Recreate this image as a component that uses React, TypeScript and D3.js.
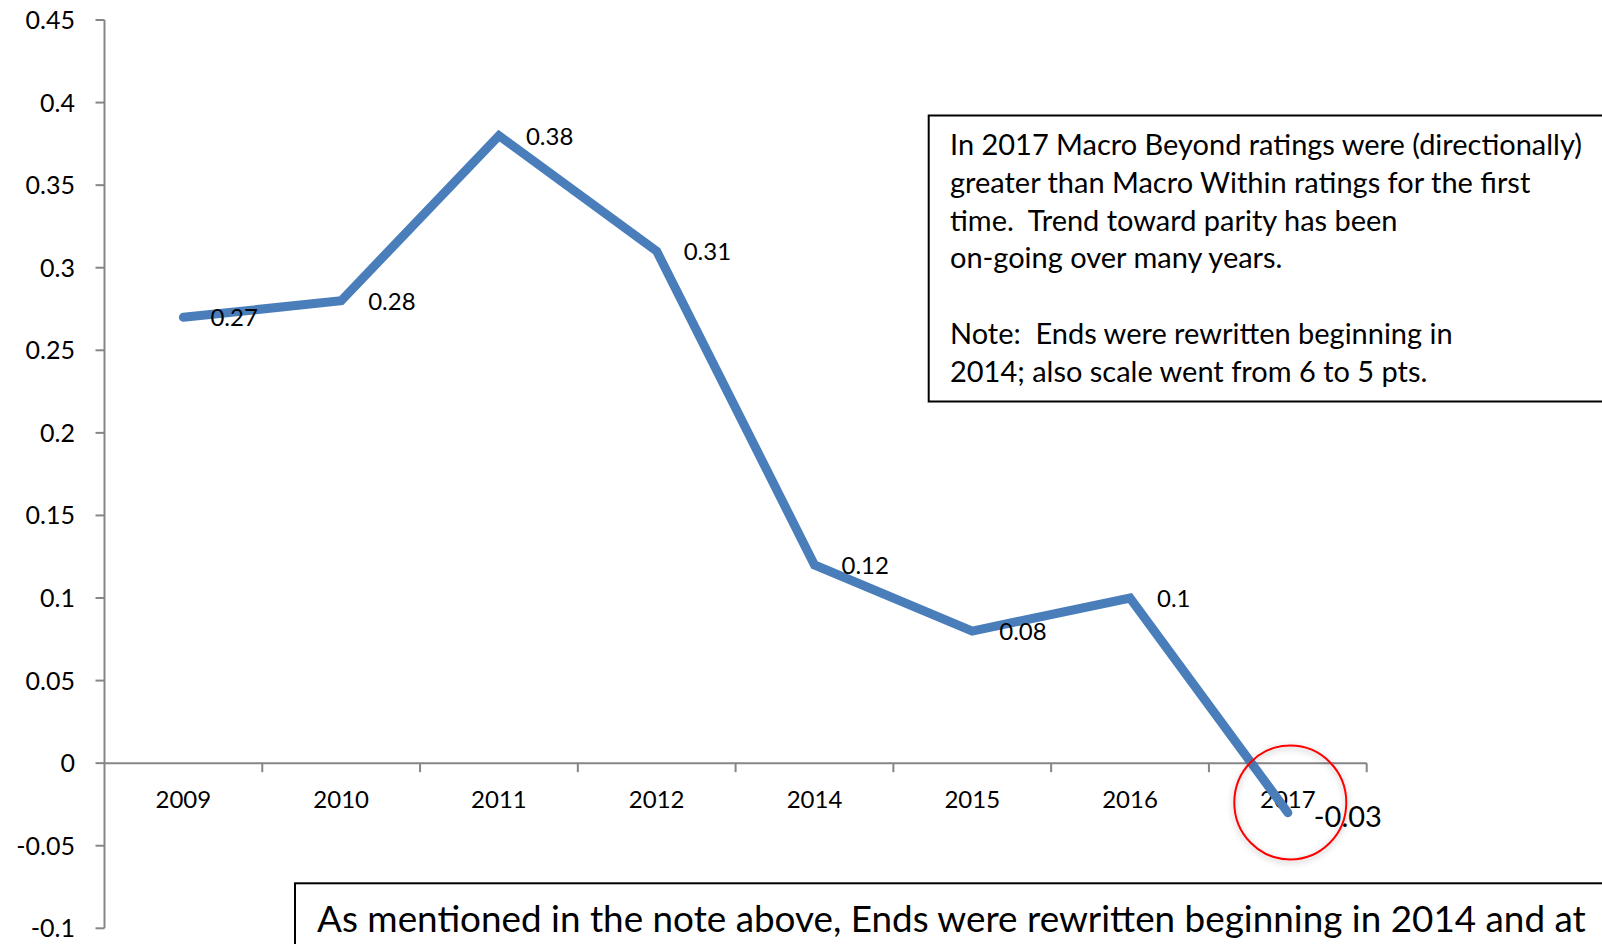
import React from 'react';
import * as d3 from 'd3';

const categories = ['2009', '2010', '2011', '2012', '2014', '2015', '2016', '2017'];
const values = [0.27, 0.28, 0.38, 0.31, 0.12, 0.08, 0.1, -0.03];
const valueLabels = ['0.27', '0.28', '0.38', '0.31', '0.12', '0.08', '0.1', '-0.03'];
const yTicks = [-0.1, -0.05, 0, 0.05, 0.1, 0.15, 0.2, 0.25, 0.3, 0.35, 0.4, 0.45];
const yTickLabels = ['-0.1', '-0.05', '0', '0.05', '0.1', '0.15', '0.2', '0.25', '0.3', '0.35', '0.4', '0.45'];
const noteLines = [
  'In 2017 Macro Beyond ratings were (directionally)',
  'greater than Macro Within ratings for the first',
  'time.  Trend toward parity has been',
  'on-going over many years.',
  '',
  'Note:  Ends were rewritten beginning in',
  '2014; also scale went from 6 to 5 pts.',
];
const bottomNote = 'As mentioned in the note above, Ends were rewritten beginning in 2014 and at';

const FONT = 'Lato, "Open Sans", sans-serif';

function fitSize(text: string, target: number): number {
  try {
    const c = document.createElement('canvas');
    const ctx = c.getContext('2d');
    if (!ctx) return 28;
    ctx.font = `100px Lato`;
    const w = ctx.measureText(text).width;
    return (100 * target) / w;
  } catch (e) {
    return 28;
  }
}

export default function App() {
  const W = 1602;
  const H = 944;
  const x = d3.scaleBand<string>().domain(categories).range([104.5, 1366.7]).padding(0);
  const y = d3.scaleLinear().domain([-0.1, 0.45]).range([928.3, 20]);
  const cx = (c: string) => (x(c) as number) + x.bandwidth() / 2;
  const line = d3
    .line<number>()
    .x((_, i) => cx(categories[i]))
    .y((d) => y(d));
  const axisColor = '#868686';
  const noteSize = fitSize(noteLines[0], 633);
  const bottomSize = fitSize(bottomNote, 1270);
  const y0 = y(0);
  const noteBase0 = 155;
  const noteStep = 37.8;

  return (
    <svg
      width={W}
      height={H}
      style={{ position: 'absolute', left: 0, top: 0, background: '#fff' }}
      fontFamily={FONT}
    >
      <defs>
        <filter id="shadow" x="-30%" y="-30%" width="160%" height="160%">
          <feDropShadow dx="0" dy="2" stdDeviation="3" floodColor="#000" floodOpacity="0.3" />
        </filter>
      </defs>
      <rect x={0} y={0} width={W} height={H} fill="#fff" />
      {/* Y axis */}
      <line x1={104.5} x2={104.5} y1={y(0.45)} y2={y(-0.1)} stroke={axisColor} strokeWidth={2} />
      {yTicks.map((t, i) => (
        <g key={t}>
          <line x1={95.5} x2={104.5} y1={y(t)} y2={y(t)} stroke={axisColor} strokeWidth={2} />
          <text x={75} y={y(t) + 9} textAnchor="end" fontSize={25} fill="#000">
            {yTickLabels[i]}
          </text>
        </g>
      ))}
      {/* X axis */}
      <line x1={104.5} x2={1366.7} y1={y0} y2={y0} stroke={axisColor} strokeWidth={2} />
      {categories.map((c) => (
        <line
          key={'t' + c}
          x1={(x(c) as number) + x.bandwidth()}
          x2={(x(c) as number) + x.bandwidth()}
          y1={y0}
          y2={y0 + 9}
          stroke={axisColor}
          strokeWidth={2}
        />
      ))}
      {categories.map((c) => (
        <text key={'l' + c} x={cx(c)} y={808} textAnchor="middle" fontSize={24} fill="#000">
          {c}
        </text>
      ))}
      {/* Series */}
      <path
        d={line(values) as string}
        fill="none"
        stroke="#4A7EBB"
        strokeWidth={9}
        strokeLinecap="round"
        strokeLinejoin="miter"
      />
      {values.map((v, i) => {
        const last = i === values.length - 1;
        return (
          <text
            key={'v' + i}
            x={cx(categories[i]) + (last ? 26 : 27)}
            y={y(v) + (last ? 14 : 9)}
            fontSize={last ? 29 : 24}
            fill="#000"
          >
            {valueLabels[i]}
          </text>
        );
      })}
      {/* Red circle */}
      <ellipse
        cx={1290.3}
        cy={802.5}
        rx={56}
        ry={57}
        fill="none"
        stroke="#FF0000"
        strokeWidth={2}
        filter="url(#shadow)"
      />
      {/* Note box */}
      <rect x={928.7} y={115.5} width={720} height={286} fill="#fff" stroke="#000" strokeWidth={2} />
      {noteLines.map((t, i) =>
        t ? (
          <text
            key={'n' + i}
            x={950}
            y={noteBase0 + i * noteStep}
            fontSize={noteSize}
            fill="#000"
            style={{ whiteSpace: 'pre' }}
          >
            {t}
          </text>
        ) : null
      )}
      {/* Bottom box */}
      <rect x={295} y={883.3} width={1400} height={120} fill="#fff" stroke="#000" strokeWidth={2} />
      <text x={317} y={932} fontSize={bottomSize} fill="#000">
        {bottomNote}
      </text>
    </svg>
  );
}
